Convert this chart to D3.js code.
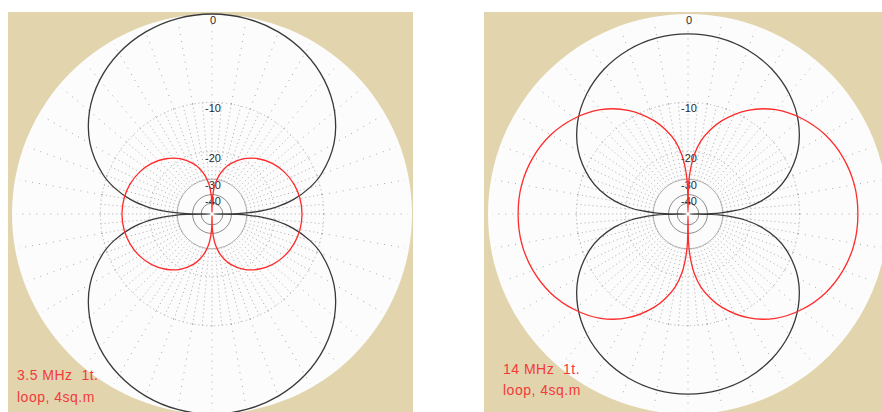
<!DOCTYPE html>
<html>
<head>
<meta charset="utf-8">
<script src="https://cdn.jsdelivr.net/npm/d3@7"></script>
<style>
  html, body { margin: 0; padding: 0; background: #ffffff; }
  svg { display: block; }
  text { font-family: "Liberation Sans", Arial, sans-serif; }
</style>
</head>
<body>
<svg id="chart" width="882" height="412"></svg>
<script>
// Bearings (deg, clockwise from top) for the right half of each pattern; the left half mirrors it.
// The black traces null at 90 deg, the red traces at 0 and 180 deg.
const anglesBlack = [0, 10, 20, 30, 40, 50, 60, 70, 75, 80, 84, 86, 88, 89, 90,
                     91, 92, 94, 96, 100, 105, 110, 120, 130, 140, 150, 160, 170, 180];
const anglesRed = [0, 1, 2, 4, 6, 10, 15, 20, 30, 40, 50, 60, 70, 80, 90,
                   100, 110, 120, 130, 140, 150, 160, 165, 170, 174, 176, 178, 179, 180];

// 3.5 MHz gain (dB)
const black35 = [0, -0.13, -0.54, -1.25, -2.32, -3.84, -6.02, -9.32, -11.74, -15.21, -19.61, -23.13, -29.14, -35.16, -80,
                 -35.16, -29.14, -23.13, -19.61, -15.21, -11.74, -9.32, -6.02, -3.84, -2.32, -1.25, -0.54, -0.13, 0];
const red35 = [-80, -48.2, -42.2, -36.0, -32.5, -28.3, -25.0, -22.7, -19.6, -17.5, -16.0, -14.95, -14.24, -13.83, -13.7,
               -13.83, -14.24, -14.95, -16.0, -17.5, -19.6, -22.7, -25.0, -28.3, -32.5, -36.0, -42.2, -48.2, -80];

// 14 MHz gain (dB)
const black14 = [-1.8, -1.93, -2.34, -3.05, -4.12, -5.64, -7.82, -11.12, -13.54, -17.01, -21.41, -24.93, -30.94, -36.96, -80,
                 -36.96, -30.94, -24.93, -21.41, -17.01, -13.54, -11.12, -7.82, -5.64, -4.12, -3.05, -2.34, -1.93, -1.8];
const red14 = [-80, -34.0, -29.0, -24.0, -20.8, -17.0, -14.2, -12.0, -8.8, -6.6, -5.1, -4.0, -3.3, -2.9, -2.8,
               -2.9, -3.3, -4.0, -5.1, -6.6, -8.8, -12.0, -14.2, -17.0, -20.8, -24.0, -29.0, -34.0, -80];

// Ring levels and their labels
const ringLevels = [0, -10, -20, -30, -40];
const ringLabels = ["0", "-10", "-20", "-30", "-40"];

const captions35 = ["3.5 MHz  1t.", "loop, 4sq.m"];
const captions14 = ["14 MHz  1t.", "loop, 4sq.m"];

const svg = d3.select("#chart");
const R = 200;

// ARRL log-periodic radius: each 2 dB shrinks the radius by a factor of 0.89.
const dbScale = d3.scaleLog().domain([R * Math.pow(0.89, 40), R]).range([-80, 0]);
const rad = db => dbScale.invert(db);

function fullCircle(angles, values) {
  const pts = angles.map((a, i) => ({ a, db: values[i] }));
  for (let i = angles.length - 2; i >= 1; i--) {
    pts.push({ a: 360 - angles[i], db: values[i] });
  }
  return pts;
}

const radialLine = d3.lineRadial()
  .angle(d => d.a * Math.PI / 180)
  .radius(d => rad(d.db))
  .curve(d3.curveCatmullRomClosed.alpha(0.5));

const toRad = a => a * Math.PI / 180;

function drawPanel(opt) {
  const g = svg.append("g");
  const clipId = "clip" + opt.id;
  g.append("clipPath").attr("id", clipId)
    .append("rect").attr("x", opt.x0).attr("y", opt.y0).attr("width", opt.x1 - opt.x0).attr("height", opt.y1 - opt.y0);

  g.append("rect")
    .attr("x", opt.x0).attr("y", opt.y0)
    .attr("width", opt.x1 - opt.x0).attr("height", opt.y1 - opt.y0)
    .attr("fill", "#e2d5ae");

  const p = g.append("g").attr("clip-path", `url(#${clipId})`)
    .append("g").attr("transform", `translate(${opt.cx},${opt.cy})`);

  p.append("circle").attr("r", R).attr("fill", "#fbfcfb");

  // inner spokes every 5 deg between the -30 and -10 rings
  p.selectAll(".spokeIn").data(d3.range(0, 360, 5)).join("line")
    .attr("class", "spokeIn")
    .attr("x1", a => rad(-30) * Math.sin(toRad(a)))
    .attr("y1", a => -rad(-30) * Math.cos(toRad(a)))
    .attr("x2", a => rad(-10) * Math.sin(toRad(a)))
    .attr("y2", a => -rad(-10) * Math.cos(toRad(a)))
    .attr("stroke", "#acacac").attr("stroke-width", 1)
    .attr("stroke-dasharray", "1,3");

  // outer spokes every 10 deg out to the rim
  p.selectAll(".spokeOut").data(d3.range(0, 360, 10)).join("line")
    .attr("class", "spokeOut")
    .attr("x1", a => rad(-10) * Math.sin(toRad(a)))
    .attr("y1", a => -rad(-10) * Math.cos(toRad(a)))
    .attr("x2", a => (R - 4) * Math.sin(toRad(a)))
    .attr("y2", a => -(R - 4) * Math.cos(toRad(a)))
    .attr("stroke", "#a8a8a8").attr("stroke-width", 1)
    .attr("stroke-dasharray", "1,6");

  // dotted rings
  p.selectAll(".dring").data([-10, -20]).join("circle")
    .attr("class", "dring")
    .attr("r", d => rad(d)).attr("fill", "none")
    .attr("stroke", "#a8a8a8").attr("stroke-width", 1).attr("stroke-dasharray", "1,3");

  // solid inner rings
  p.selectAll(".sring").data([-30, -40, -50]).join("circle")
    .attr("class", "sring")
    .attr("r", d => rad(d)).attr("fill", "none")
    .attr("stroke", d => d === -30 ? "#b0b0b0" : "#8a8a8a").attr("stroke-width", 1);

  p.selectAll(".rlab").data(ringLevels).join("text")
    .attr("class", "rlab")
    .attr("x", 1)
    .attr("y", d => -rad(d) + 10)
    .attr("text-anchor", "middle")
    .attr("font-size", 11)
    .attr("fill", "#2a2a2a")
    .text((d, i) => ringLabels[i]);

  p.append("path").datum(fullCircle(anglesBlack, opt.black))
    .attr("d", radialLine).attr("fill", "none")
    .attr("stroke", "#3a3a3a").attr("stroke-width", 1.3);

  p.append("path").datum(fullCircle(anglesRed, opt.red))
    .attr("d", radialLine).attr("fill", "none")
    .attr("stroke", "#ff2a2a").attr("stroke-width", 1.3);

  g.selectAll(".cap").data(opt.captions).join("text")
    .attr("class", "cap")
    .attr("x", opt.tx)
    .attr("y", (d, i) => opt.ty + i * opt.tdy)
    .attr("font-size", 14)
    .attr("letter-spacing", 0.5)
    .attr("fill", "#f23a3a")
    .style("white-space", "pre")
    .text(d => d);
}

drawPanel({ id: "a", x0: 8, x1: 413, y0: 12, y1: 412, cx: 212, cy: 214,
            black: black35, red: red35, captions: captions35, tx: 17, ty: 380, tdy: 22 });
drawPanel({ id: "b", x0: 484, x1: 882, y0: 12, y1: 412, cx: 688, cy: 214,
            black: black14, red: red14, captions: captions14, tx: 503, ty: 374, tdy: 21 });
</script>
</body>
</html>
